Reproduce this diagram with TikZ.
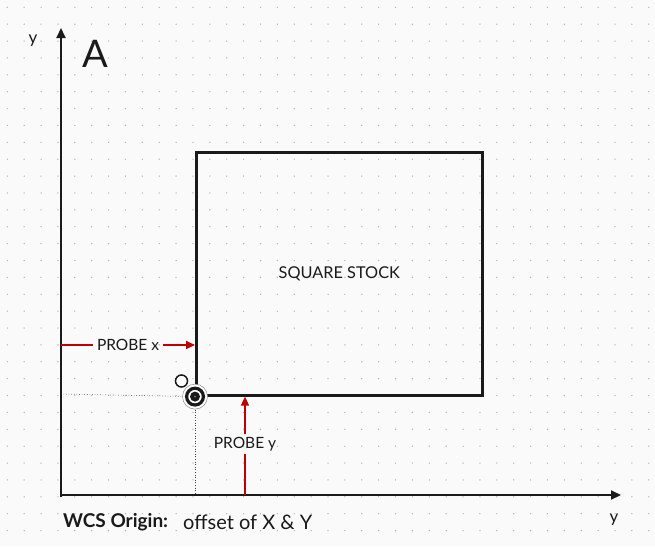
\documentclass[tikz,border=0pt]{standalone}
\usepackage{fontspec}
\setmainfont{Lato}
\usetikzlibrary{arrows.meta}
\definecolor{probered}{HTML}{C00000}
\definecolor{ink}{HTML}{1A1A1A}
\begin{document}
\begin{tikzpicture}[x=1pt,y=-1pt,
  axis/.style={ink, line width=2pt, -{Triangle[length=10pt,width=9pt]}},
  probeline/.style={probered, line width=1.6pt},
  probearrow/.style={probeline, -{Triangle[length=9pt,width=8pt]}},
  lbl/.style={text=ink, font=\fontsize{15.5}{18}\selectfont, inner xsep=4pt, inner ysep=3pt},
  guide/.style={black!75, line width=0.6pt, dotted},
  stockbox/.style={draw=ink, line width=2.6pt, minimum width=286pt, minimum height=243pt, anchor=north west, inner sep=0pt}]
\fill[black!2] (0,0) rectangle (655,546);
\useasboundingbox (0,0) rectangle (655,546);
\foreach \i in {0,...,38}{\foreach \j in {0,...,31}{\fill[black!28] (7.3+16.88*\i, 7.3+16.88*\j) circle (0.75);}}
% axes
\coordinate (O) at (61,495);
\coordinate (ytip) at (61,28);
\coordinate (xtip) at (621,495);
\draw[axis] (61,497) -- (ytip);
\draw[axis] (O) -- (xtip);
\node[text=ink, font=\fontsize{17}{19}\selectfont] (ylab) at (33,41) {y};
\node[text=ink, font=\fontsize{17}{19}\selectfont] (xlab) at (614,520) {y};
\node[text=ink, font=\fontsize{38}{40}\selectfont] (alab) at (95.5,54) {A};
% stock
\node[stockbox] (stock) at (195,151) {};
\node[text=ink, font=\fontsize{16.3}{18}\selectfont] (stocklab) at (stock.center) {SQUARE STOCK};
% guides
\coordinate (gl) at (61,394);
\coordinate (gb) at (195,495);
\draw[guide] (gl) -- (stock.south west);
\draw[guide] (stock.south west) -- (gb);
% probe x
\node[lbl] (px) at (128,345) {PROBE x};
\coordinate (pxs) at (61,345);
\draw[probeline] (pxs) -- (px.west);
\draw[probearrow] (px.east) -- (px.east -| stock.west);
% probe y
\node[lbl] (py) at (245,444) {PROBE y};
\coordinate (pys) at (245,495);
\draw[probeline] (pys) -- (py.south);
\draw[probearrow] (py.north) -- (py.north |- stock.south);
% target
\coordinate (t) at (stock.south west);
\fill[white] (t) circle (12.5);
\draw[black!45, line width=0.5pt] (t) circle (12.5);
\draw[ink, line width=3.2pt] (t) circle (8.4);
\fill[ink] (t) circle (5);
\fill[black!55] (t) circle (1);
\node[draw=ink, fill=white, line width=1.5pt, circle, minimum size=12pt, inner sep=0pt] (probe) at (181.5,381) {};
% caption
\node[text=ink, anchor=west, font=\bfseries\fontsize{19}{21}\selectfont, inner sep=0pt] (wcs) at (63,522) {WCS Origin:};
\node[text=ink, anchor=west, font=\fontsize{20}{22}\selectfont, inner sep=0pt] (off) at (183,522) {offset of X \& Y};
\end{tikzpicture}
\end{document}
